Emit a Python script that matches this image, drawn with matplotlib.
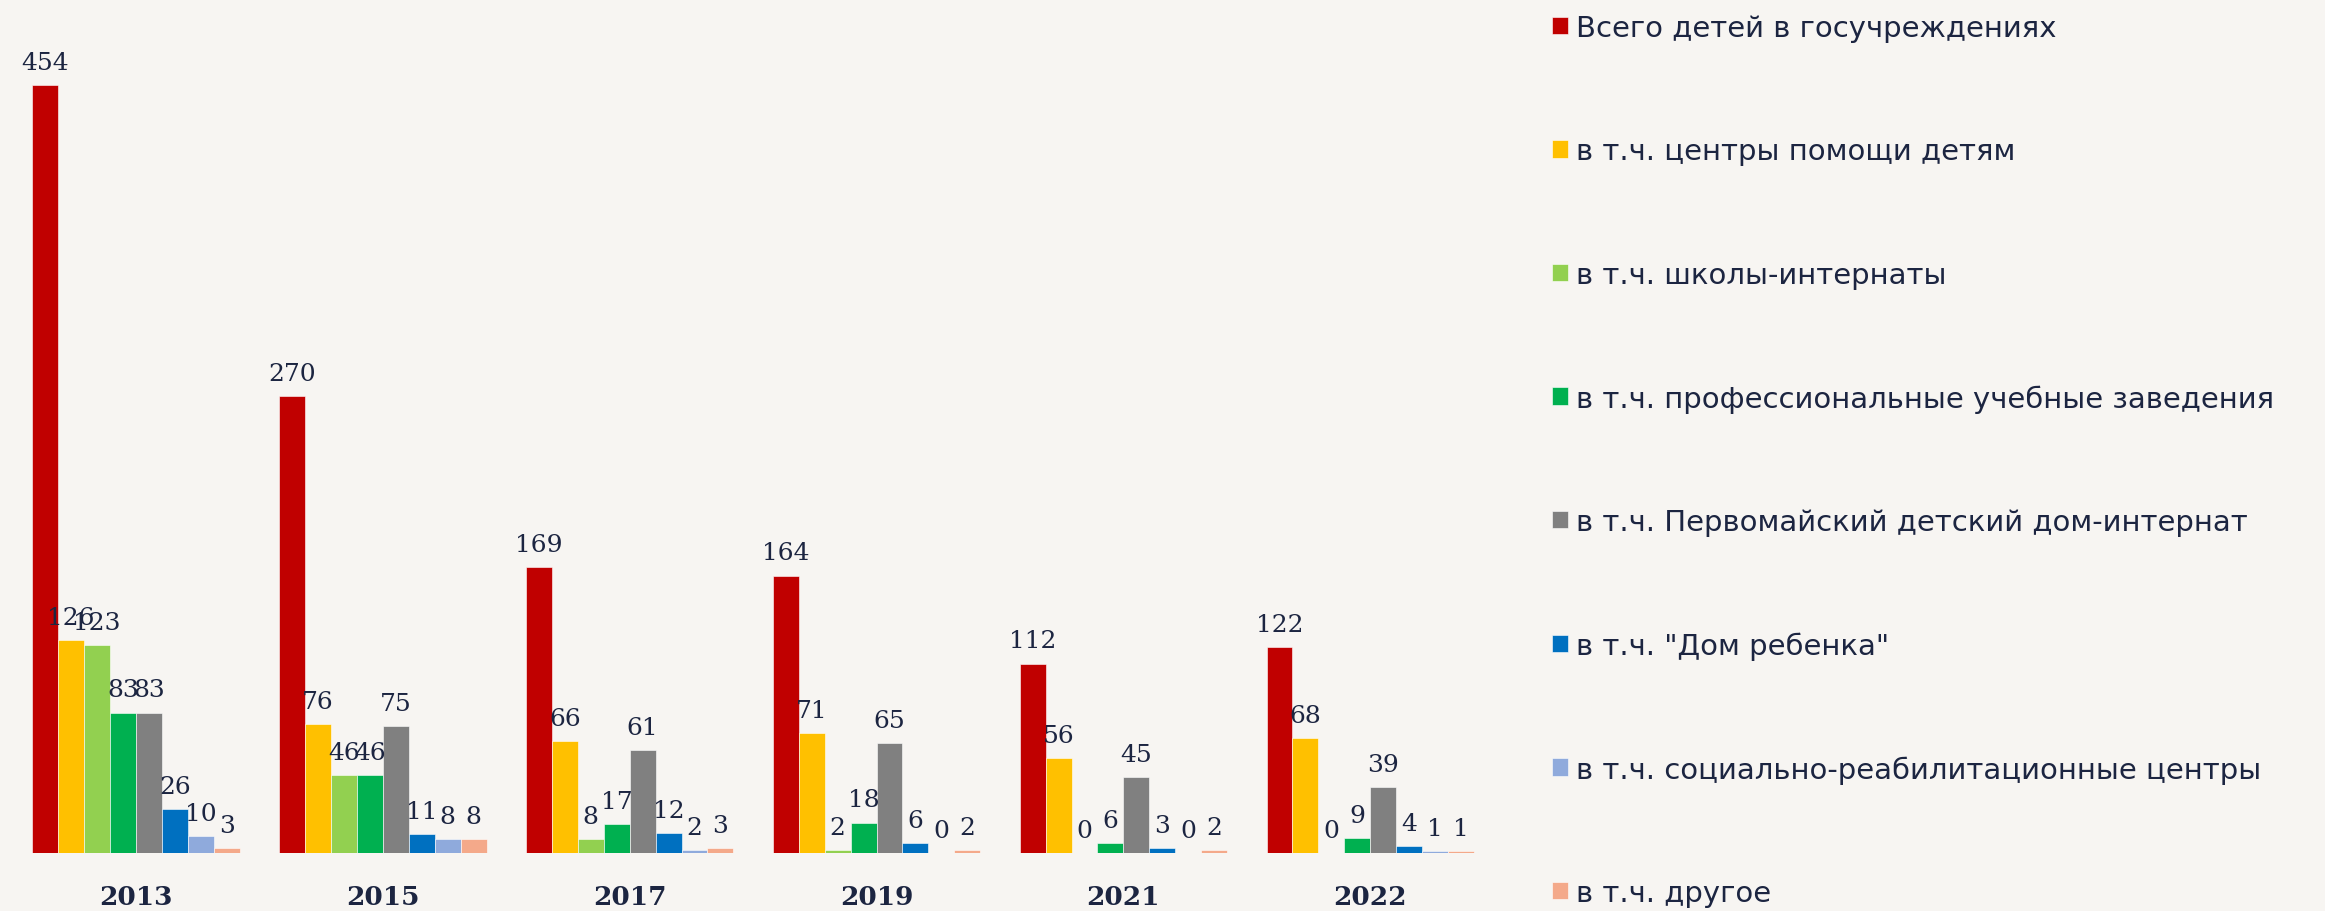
import numpy as np
import matplotlib.pyplot as plt

years = ['2013', '2015', '2017', '2019', '2021', '2022']
series = [
    'Всего детей в госучреждениях',
    'в т.ч. центры помощи детям',
    'в т.ч. школы-интернаты',
    'в т.ч. профессиональные учебные заведения',
    'в т.ч. Первомайский детский дом-интернат',
    'в т.ч. "Дом ребенка"',
    'в т.ч. социально-реабилитационные центры',
    'в т.ч. другое',
]
total = [454, 270, 169, 164, 112, 122]
help_centers = [126, 76, 66, 71, 56, 68]
boarding_schools = [123, 46, 8, 2, 0, 0]
prof_schools = [83, 46, 17, 18, 6, 9]
pervomaisky = [83, 75, 61, 65, 45, 39]
baby_home = [26, 11, 12, 6, 3, 4]
rehab_centers = [10, 8, 2, 0, 0, 1]
other = [3, 8, 3, 2, 2, 1]
values = [total, help_centers, boarding_schools, prof_schools,
          pervomaisky, baby_home, rehab_centers, other]
colors = ['#c00000', '#ffc000', '#92d050', '#00b050',
          '#808080', '#0070c0', '#8faadc', '#f4a98a']

text_color = '#1c2541'
bg = '#f7f5f2'

fig = plt.figure(figsize=(23.25, 9.12), dpi=100, facecolor=bg)
ax = fig.add_axes([12.6 / 2325, 58 / 912, 1481 / 2325, 834 / 912])
ax.set_facecolor(bg)

x = np.arange(len(years))
n = len(series)
group_w = 0.84
w = group_w / n
handles = []
for i in range(n):
    pos = x - group_w / 2 + w * (i + 0.5)
    bars = ax.bar(pos, values[i], width=w, color=colors[i],
                  edgecolor='white', linewidth=0.4, label=series[i])
    ax.bar_label(bars, labels=[str(v) for v in values[i]], padding=8,
                 fontsize=18, color=text_color, family='DejaVu Serif')
    handles.append(bars)

ax.set_xlim(-0.5, len(years) - 0.5)
ax.set_ylim(0, 493)
ax.set_xticks(x)
ax.set_xticklabels(years, fontsize=19, fontweight='bold',
                   color=text_color, family='DejaVu Serif')
ax.tick_params(axis='x', length=0, pad=22)
ax.set_yticks([])
for s in ax.spines.values():
    s.set_visible(False)

fig.legend(handles=handles, labels=series, loc='upper left',
           bbox_to_anchor=(1532 / 2325, 1.006), frameon=False,
           fontsize=21, labelcolor=text_color, handlelength=0.55,
           handleheight=0.55, handletextpad=0.25, labelspacing=3.27,
           borderaxespad=0.3)

fig.savefig('out.png', dpi=100, facecolor=bg)
